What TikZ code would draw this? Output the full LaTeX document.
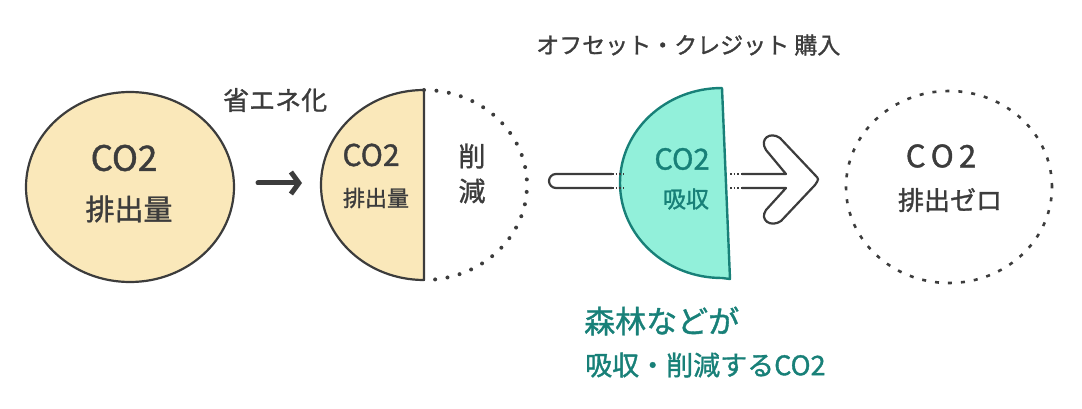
\documentclass[tikz,border=0pt]{standalone}
\usepackage{fontspec}
\newfontfamily\jpfont[FakeBold=1.2]{Noto Sans CJK JP}
\definecolor{EmitYellow}{RGB}{250,232,186}
\definecolor{SinkTeal}{RGB}{146,240,218}
\definecolor{SinkInk}{RGB}{24,128,120}
\definecolor{InkGray}{RGB}{60,60,60}
\usetikzlibrary{arrows.meta,positioning,shapes.geometric,calc}

\begin{document}
\begin{tikzpicture}[x=1pt,y=-1pt,font=\jpfont,
  lbl/.style={inner sep=0pt,text=InkGray},
  tlbl/.style={inner sep=0pt,text=SinkInk},
  ink/.style={draw=InkGray,line width=2.2pt,line join=round}]
\useasboundingbox (0,0) rectangle (1082,409);
% step 1: whole emission
\node[ellipse,ink,fill=EmitYellow,minimum width=208,minimum height=190] (emit) at (130,187) {};
\node[lbl,font={\jpfont\fontsize{35}{35}\selectfont}] (emitCO) at (124,158) {CO2};
\node[lbl,font={\jpfont\fontsize{29}{29}\selectfont}] (emitAmt) at (129,209) {排出量};
% step 2: cut by saving energy
\coordinate (cutTop) at (424,90);
\coordinate (cutBot) at (424,280);
\filldraw[ink,fill=EmitYellow] (cutTop) arc[start angle=-90,end angle=-270,x radius=103,y radius=95] -- cycle;
\draw[InkGray,line width=4pt,line cap=round,dash pattern=on 0pt off 12.5pt] (cutTop) arc[start angle=-90,end angle=90,x radius=103,y radius=95];
\node[lbl,font={\jpfont\fontsize{30}{30}\selectfont}] (cutCO) at (371,155) {CO2};
\node[lbl,font={\jpfont\fontsize{22}{22}\selectfont}] (cutAmt) at (376,198) {排出量};
\node[lbl,font={\jpfont\fontsize{27}{27}\selectfont}] (cutA) at (472,156) {削};
\node[lbl,font={\jpfont\fontsize{27}{27}\selectfont}] (cutB) at (472,191) {減};
\node[lbl,anchor=west,font={\jpfont\fontsize{26}{26}\selectfont}] (saving) at (223,100) {省エネ化};
\coordinate (cutWest) at (321,183);
\draw[InkGray,line width=5pt,line cap=round,-{Straight Barb[length=8pt,width=22pt]}] (258,183) -- (cutWest) [shorten >=19pt];
% step 3: offset by absorption
\coordinate (sinkTop) at (722,88);
\coordinate (sinkBot) at (730,279);
\filldraw[draw=SinkInk,line width=2.4pt,line join=round,fill=SinkTeal] (sinkTop) arc[start angle=-90,end angle=-270,x radius=102,y radius=95] -- (sinkBot) -- cycle;
\node[tlbl,font={\jpfont\fontsize{29}{29}\selectfont}] (sinkCO) at (682,159) {CO2};
\node[tlbl,font={\jpfont\fontsize{23}{23}\selectfont}] (sinkAmt) at (686,199) {吸収};
\node[lbl,anchor=west,font={\jpfont\fontsize{23}{23}\selectfont}] (credit) at (536,45) {オフセット・クレジット 購入};
\node[tlbl,anchor=west,font={\jpfont\fontsize{31}{31}\selectfont}] (forest) at (584,321) {森林などが};
\node[tlbl,anchor=west,font={\jpfont\fontsize{27}{27}\selectfont}] (forestCO) at (585,365) {吸収・削減するCO2};
% big arrow, tail and head
\coordinate (tailTop) at (612,174);
\coordinate (tailBot) at (612,188);
\coordinate (headTop) at (742,174);
\coordinate (headBot) at (742,188);
\draw[ink] (tailTop) -- (556,174) arc[start angle=-90,end angle=-270,radius=7] -- (tailBot);
\draw[InkGray,line width=1.6pt,dotted] (tailTop) -- (623,174) (tailBot) -- (623,188);
\draw[InkGray,line width=1.6pt,dotted] (730,174) -- (headTop) (730,188) -- (headBot);
\draw[ink] (headTop) -- (786,174) -- (766,150) .. controls (759,139) and (770,131) .. (780,138)
  -- (815,175) .. controls (819,179) .. (815,185) -- (781,221) .. controls (771,228) and (759,220) .. (766,210)
  -- (786,188) -- (headBot);
% step 4: zero emission
\node[ellipse,draw=InkGray,line width=2.6pt,dash pattern=on 4pt off 9pt,minimum width=206,minimum height=192] (zero) at (949,187) {};
\node[lbl,font={\jpfont\fontsize{31}{31}\selectfont}] (zeroCO) at (941,156) {C\,O\,2};
\node[lbl,font={\jpfont\fontsize{26}{26}\selectfont}] (zeroAmt) at (950,200) {排出ゼロ};
\end{tikzpicture}
\end{document}
